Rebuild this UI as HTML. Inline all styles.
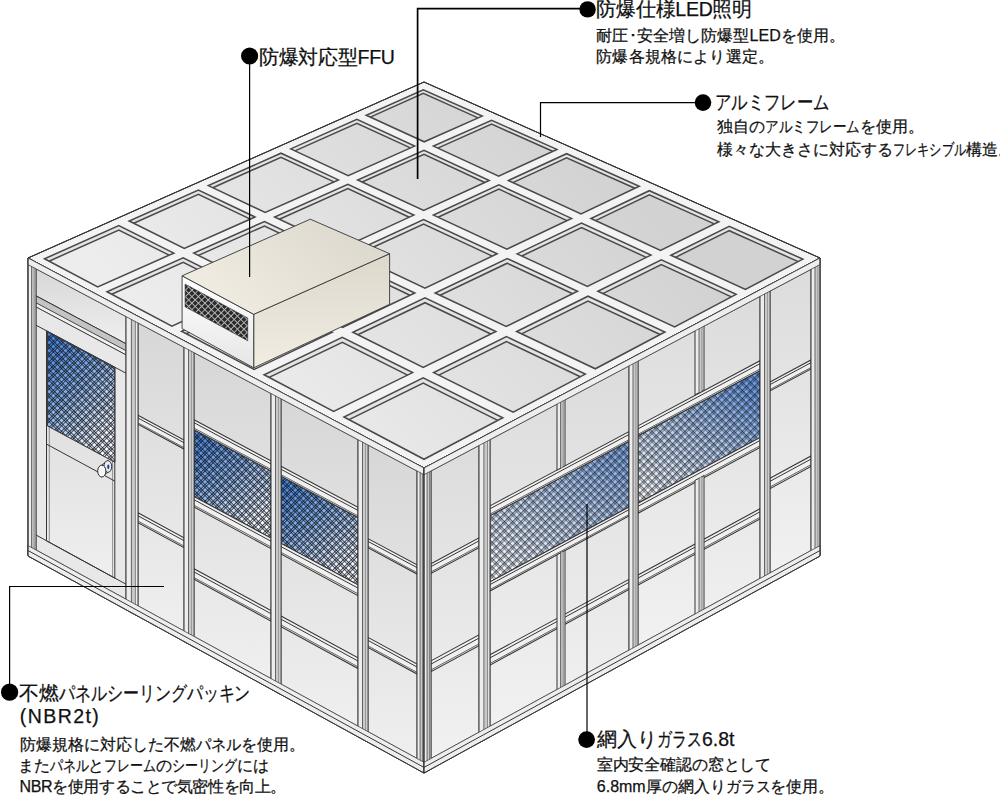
<!DOCTYPE html>
<html><head><meta charset="utf-8"><title>clean room</title>
<style>
html,body{margin:0;padding:0;background:#fff;}
body{width:1000px;height:796px;position:relative;overflow:hidden;font-family:"Liberation Sans",sans-serif;color:#111;}
svg{position:absolute;left:0;top:0;}
.t{position:absolute;white-space:nowrap;-webkit-text-stroke:0.25px #111;}
.k{display:inline-block;transform-origin:0 0;}
</style></head><body>
<svg width="1000" height="796" viewBox="0 0 1000 796">
<defs>
<linearGradient id="gTop" gradientUnits="userSpaceOnUse" x1="250" y1="420" x2="560" y2="120"><stop offset="0" stop-color="#ededed"/><stop offset="1" stop-color="#d2d2d2"/></linearGradient>
<linearGradient id="gWall" x1="0" y1="0" x2="0" y2="1"><stop offset="0" stop-color="#d7d7d7"/><stop offset="1" stop-color="#efefef"/></linearGradient>
<linearGradient id="gWallR" x1="0" y1="0" x2="0" y2="1"><stop offset="0" stop-color="#dcdcdc"/><stop offset="1" stop-color="#f1f1f1"/></linearGradient>
<linearGradient id="gBlue" x1="0" y1="0" x2="0.5" y2="1"><stop offset="0" stop-color="#3f7fdc"/><stop offset="0.5" stop-color="#8ab3ec"/><stop offset="1" stop-color="#f6f9ff"/></linearGradient>
<linearGradient id="gBlueR" x1="0.75" y1="0" x2="0.2" y2="1"><stop offset="0" stop-color="#6c9de6"/><stop offset="0.5" stop-color="#b9cff0"/><stop offset="1" stop-color="#f6f8fc"/></linearGradient>
<linearGradient id="gBlueR1" x1="0.75" y1="0" x2="0.2" y2="1"><stop offset="0" stop-color="#86ace6"/><stop offset="0.5" stop-color="#c4d6f2"/><stop offset="1" stop-color="#f6f8fc"/></linearGradient>
<linearGradient id="gFFUtop" x1="0" y1="0.7" x2="1" y2="0.2"><stop offset="0" stop-color="#f2ede3"/><stop offset="1" stop-color="#dcd7cc"/></linearGradient>
<linearGradient id="gFFUside" x1="0" y1="0" x2="0" y2="1"><stop offset="0" stop-color="#ddd8cc"/><stop offset="1" stop-color="#f2ede3"/></linearGradient>
<linearGradient id="gFFUfront" x1="0" y1="0" x2="0" y2="1"><stop offset="0" stop-color="#ffffff"/><stop offset="1" stop-color="#e6e6e6"/></linearGradient>
<pattern id="mesh" width="5.8" height="5.8" patternUnits="userSpaceOnUse" patternTransform="rotate(45)"><rect x="0" y="0" width="0.9" height="5.8" fill="#0c1016" fill-opacity="0.8"/><rect x="1.9" y="0" width="0.9" height="5.8" fill="#0c1016" fill-opacity="0.8"/><rect x="0" y="0" width="5.8" height="0.9" fill="#0c1016" fill-opacity="0.8"/><rect x="0" y="1.9" width="5.8" height="0.9" fill="#0c1016" fill-opacity="0.8"/></pattern>
<pattern id="meshR" width="5.8" height="5.8" patternUnits="userSpaceOnUse" patternTransform="rotate(45)"><rect x="0" y="0" width="0.7" height="5.8" fill="#0c1016" fill-opacity="0.8"/><rect x="1.75" y="0" width="0.7" height="5.8" fill="#0c1016" fill-opacity="0.75"/><rect x="0" y="0" width="5.8" height="0.7" fill="#0c1016" fill-opacity="0.8"/><rect x="0" y="1.75" width="5.8" height="0.7" fill="#0c1016" fill-opacity="0.75"/></pattern>
<pattern id="grille" width="4.6" height="4.6" patternUnits="userSpaceOnUse" patternTransform="rotate(45)"><rect width="4.6" height="4.6" fill="#2a2a2a"/><rect x="0" y="0" width="0.9" height="4.6" fill="#bdbdbd"/><rect x="0" y="0" width="4.6" height="0.9" fill="#bdbdbd"/></pattern>
</defs>
<polygon points="28,258 424,468 820,258 424,82" fill="#f3f3f3" stroke="#353535" stroke-width="0.9"/>
<polygon points="44.5,258.8 97.7,286.9 173.8,253.1 118.8,225.6" fill="#e4e4e4" stroke="none" stroke-width="0.8"/>
<polygon points="49,261.2 97.7,286.9 169.1,255.2 118.8,230" fill="url(#gTop)" stroke="none" stroke-width="0.8"/>
<polygon points="44.5,258.8 97.7,286.9 173.8,253.1 118.8,225.6" fill="none" stroke="#4a4a4a" stroke-width="1.55"/>
<polyline points="49,261.2 118.8,230 169.1,255.2" fill="none" stroke="#4a4a4a" stroke-width="1.5"/>
<polygon points="129.2,221 184.3,248.4 255,217 198.4,190.1" fill="#e4e4e4" stroke="none" stroke-width="0.8"/>
<polygon points="133.7,223.2 184.3,248.4 250.3,219.1 198.4,194.4" fill="url(#gTop)" stroke="none" stroke-width="0.8"/>
<polygon points="129.2,221 184.3,248.4 255,217 198.4,190.1" fill="none" stroke="#4a4a4a" stroke-width="1.55"/>
<polyline points="133.7,223.2 198.4,194.4 250.3,219.1" fill="none" stroke="#4a4a4a" stroke-width="1.5"/>
<polygon points="208.4,185.6 265.2,212.5 338.4,179.9 281,153.2" fill="#e4e4e4" stroke="none" stroke-width="0.8"/>
<polygon points="212.8,187.7 265.2,212.5 334,181.9 281,157.3" fill="url(#gTop)" stroke="none" stroke-width="0.8"/>
<polygon points="208.4,185.6 265.2,212.5 338.4,179.9 281,153.2" fill="none" stroke="#4a4a4a" stroke-width="1.55"/>
<polyline points="212.8,187.7 281,157.3 334,181.9" fill="none" stroke="#4a4a4a" stroke-width="1.5"/>
<polygon points="290.7,148.9 348.2,175.6 414.6,146.1 356.9,119.4" fill="#e4e4e4" stroke="none" stroke-width="0.8"/>
<polygon points="295,150.9 348.2,175.6 410.4,147.9 356.9,123.2" fill="url(#gTop)" stroke="none" stroke-width="0.8"/>
<polygon points="290.7,148.9 348.2,175.6 414.6,146.1 356.9,119.4" fill="none" stroke="#4a4a4a" stroke-width="1.55"/>
<polyline points="295,150.9 356.9,123.2 410.4,147.9" fill="none" stroke="#4a4a4a" stroke-width="1.5"/>
<polygon points="366.3,115.2 424.2,141.8 482.2,116.1 423.3,89.8" fill="#e4e4e4" stroke="none" stroke-width="0.8"/>
<polygon points="370.3,117.1 424.2,141.8 478.1,117.9 423.3,93.4" fill="url(#gTop)" stroke="none" stroke-width="0.8"/>
<polygon points="366.3,115.2 424.2,141.8 482.2,116.1 423.3,89.8" fill="none" stroke="#4a4a4a" stroke-width="1.55"/>
<polyline points="370.3,117.1 423.3,93.4 478.1,117.9" fill="none" stroke="#4a4a4a" stroke-width="1.5"/>
<polygon points="107,291.8 171.9,326.1 249,290.7 183.2,257.8" fill="#e4e4e4" stroke="none" stroke-width="0.8"/>
<polygon points="111.7,294.3 171.9,326.1 244.2,292.9 183.2,262.4" fill="url(#gTop)" stroke="none" stroke-width="0.8"/>
<polygon points="107,291.8 171.9,326.1 249,290.7 183.2,257.8" fill="none" stroke="#4a4a4a" stroke-width="1.55"/>
<polyline points="111.7,294.3 183.2,262.4 244.2,292.9" fill="none" stroke="#4a4a4a" stroke-width="1.5"/>
<polygon points="193.8,253.1 259.6,285.9 330.9,253.1 264.5,221.5" fill="#e4e4e4" stroke="none" stroke-width="0.8"/>
<polygon points="198.4,255.4 259.6,285.9 326.2,255.3 264.5,226" fill="url(#gTop)" stroke="none" stroke-width="0.8"/>
<polygon points="193.8,253.1 259.6,285.9 330.9,253.1 264.5,221.5" fill="none" stroke="#4a4a4a" stroke-width="1.55"/>
<polyline points="198.4,255.4 264.5,226 326.2,255.3" fill="none" stroke="#4a4a4a" stroke-width="1.5"/>
<polygon points="274.7,217 341.1,248.4 413.8,215.1 347.9,184.4" fill="#e4e4e4" stroke="none" stroke-width="0.8"/>
<polygon points="279.3,219.2 341.1,248.4 409.3,217.2 347.9,188.6" fill="url(#gTop)" stroke="none" stroke-width="0.8"/>
<polygon points="274.7,217 341.1,248.4 413.8,215.1 347.9,184.4" fill="none" stroke="#4a4a4a" stroke-width="1.55"/>
<polyline points="279.3,219.2 347.9,188.6 409.3,217.2" fill="none" stroke="#4a4a4a" stroke-width="1.5"/>
<polygon points="357.7,180 423.7,210.5 489.2,180.5 424,150.4" fill="#e4e4e4" stroke="none" stroke-width="0.8"/>
<polygon points="362.1,182 423.7,210.5 484.8,182.5 424,154.4" fill="url(#gTop)" stroke="none" stroke-width="0.8"/>
<polygon points="357.7,180 423.7,210.5 489.2,180.5 424,150.4" fill="none" stroke="#4a4a4a" stroke-width="1.55"/>
<polyline points="362.1,182 424,154.4 484.8,182.5" fill="none" stroke="#4a4a4a" stroke-width="1.5"/>
<polygon points="433.5,146.1 498.7,176.1 556.9,149.4 491.6,120.3" fill="#e4e4e4" stroke="none" stroke-width="0.8"/>
<polygon points="437.8,148.1 498.7,176.1 552.6,151.3 491.6,124.1" fill="url(#gTop)" stroke="none" stroke-width="0.8"/>
<polygon points="433.5,146.1 498.7,176.1 556.9,149.4 491.6,120.3" fill="none" stroke="#4a4a4a" stroke-width="1.55"/>
<polyline points="437.8,148.1 491.6,124.1 552.6,151.3" fill="none" stroke="#4a4a4a" stroke-width="1.5"/>
<polygon points="181.6,331.2 254.1,369.5 332.2,332.3 258.8,295.6" fill="#e4e4e4" stroke="none" stroke-width="0.8"/>
<polygon points="186.4,333.8 254.1,369.5 327.3,334.7 258.8,300.4" fill="url(#gTop)" stroke="none" stroke-width="0.8"/>
<polygon points="181.6,331.2 254.1,369.5 332.2,332.3 258.8,295.6" fill="none" stroke="#4a4a4a" stroke-width="1.55"/>
<polyline points="186.4,333.8 258.8,300.4 327.3,334.7" fill="none" stroke="#4a4a4a" stroke-width="1.5"/>
<polygon points="269.4,290.7 342.7,327.3 414.8,293 340.8,257.8" fill="#e4e4e4" stroke="none" stroke-width="0.8"/>
<polygon points="274.1,293.1 342.7,327.3 410,295.3 340.8,262.4" fill="url(#gTop)" stroke="none" stroke-width="0.8"/>
<polygon points="269.4,290.7 342.7,327.3 414.8,293 340.8,257.8" fill="none" stroke="#4a4a4a" stroke-width="1.55"/>
<polyline points="274.1,293.1 340.8,262.4 410,295.3" fill="none" stroke="#4a4a4a" stroke-width="1.5"/>
<polygon points="351,253.1 425,288.1 497.1,253.8 423.6,219.6" fill="#e4e4e4" stroke="none" stroke-width="0.8"/>
<polygon points="355.7,255.3 425,288.1 492.4,256.1 423.6,224" fill="url(#gTop)" stroke="none" stroke-width="0.8"/>
<polygon points="351,253.1 425,288.1 497.1,253.8 423.6,219.6" fill="none" stroke="#4a4a4a" stroke-width="1.55"/>
<polyline points="355.7,255.3 423.6,224 492.4,256.1" fill="none" stroke="#4a4a4a" stroke-width="1.5"/>
<polygon points="433.5,215.1 506.9,249.2 571.5,218.4 498.9,184.9" fill="#e4e4e4" stroke="none" stroke-width="0.8"/>
<polygon points="438,217.2 506.9,249.2 567,220.6 498.9,189.1" fill="url(#gTop)" stroke="none" stroke-width="0.8"/>
<polygon points="433.5,215.1 506.9,249.2 571.5,218.4 498.9,184.9" fill="none" stroke="#4a4a4a" stroke-width="1.55"/>
<polyline points="438,217.2 498.9,189.1 567,220.6" fill="none" stroke="#4a4a4a" stroke-width="1.5"/>
<polygon points="508.4,180.5 581,213.9 639.2,186.2 566.6,153.7" fill="#e4e4e4" stroke="none" stroke-width="0.8"/>
<polygon points="512.8,182.6 581,213.9 634.9,188.3 566.6,157.8" fill="url(#gTop)" stroke="none" stroke-width="0.8"/>
<polygon points="508.4,180.5 581,213.9 639.2,186.2 566.6,153.7" fill="none" stroke="#4a4a4a" stroke-width="1.55"/>
<polyline points="512.8,182.6 566.6,157.8 634.9,188.3" fill="none" stroke="#4a4a4a" stroke-width="1.5"/>
<polygon points="264.1,374.8 333.6,411.5 412.6,372.6 342.3,337.4" fill="#e4e4e4" stroke="none" stroke-width="0.8"/>
<polygon points="269.1,377.4 333.6,411.5 407.6,375.1 342.3,342.4" fill="url(#gTop)" stroke="none" stroke-width="0.8"/>
<polygon points="264.1,374.8 333.6,411.5 412.6,372.6 342.3,337.4" fill="none" stroke="#4a4a4a" stroke-width="1.55"/>
<polyline points="269.1,377.4 342.3,342.4 407.6,375.1" fill="none" stroke="#4a4a4a" stroke-width="1.5"/>
<polygon points="352.9,332.3 423.2,367.4 495.9,331.5 425,297.9" fill="#e4e4e4" stroke="none" stroke-width="0.8"/>
<polygon points="357.8,334.8 423.2,367.4 490.9,334 425,302.7" fill="url(#gTop)" stroke="none" stroke-width="0.8"/>
<polygon points="352.9,332.3 423.2,367.4 495.9,331.5 425,297.9" fill="none" stroke="#4a4a4a" stroke-width="1.55"/>
<polyline points="357.8,334.8 425,302.7 490.9,334" fill="none" stroke="#4a4a4a" stroke-width="1.5"/>
<polygon points="435.2,293 506.1,326.5 577.5,291.3 507.2,258.6" fill="#e4e4e4" stroke="none" stroke-width="0.8"/>
<polygon points="440.1,295.3 506.1,326.5 572.7,293.7 507.2,263.2" fill="url(#gTop)" stroke="none" stroke-width="0.8"/>
<polygon points="435.2,293 506.1,326.5 577.5,291.3 507.2,258.6" fill="none" stroke="#4a4a4a" stroke-width="1.55"/>
<polyline points="440.1,295.3 507.2,263.2 572.7,293.7" fill="none" stroke="#4a4a4a" stroke-width="1.5"/>
<polygon points="517.1,253.9 587.4,286.5 650.9,255.1 581.5,223.1" fill="#e4e4e4" stroke="none" stroke-width="0.8"/>
<polygon points="521.8,256 587.4,286.5 646.3,257.4 581.5,227.5" fill="url(#gTop)" stroke="none" stroke-width="0.8"/>
<polygon points="517.1,253.9 587.4,286.5 650.9,255.1 581.5,223.1" fill="none" stroke="#4a4a4a" stroke-width="1.55"/>
<polyline points="521.8,256 581.5,227.5 646.3,257.4" fill="none" stroke="#4a4a4a" stroke-width="1.5"/>
<polygon points="591,218.5 660.5,250.4 718.8,221.7 649.3,190.7" fill="#e4e4e4" stroke="none" stroke-width="0.8"/>
<polygon points="595.5,220.6 660.5,250.4 714.3,223.9 649.3,194.9" fill="url(#gTop)" stroke="none" stroke-width="0.8"/>
<polygon points="591,218.5 660.5,250.4 718.8,221.7 649.3,190.7" fill="none" stroke="#4a4a4a" stroke-width="1.55"/>
<polyline points="595.5,220.6 649.3,194.9 714.3,223.9" fill="none" stroke="#4a4a4a" stroke-width="1.5"/>
<polygon points="344,417 424,459.3 502.8,417.7 423.2,377.8" fill="#e4e4e4" stroke="none" stroke-width="0.8"/>
<polygon points="349.1,419.7 424,459.3 497.7,420.3 423.2,383" fill="url(#gTop)" stroke="none" stroke-width="0.8"/>
<polygon points="344,417 424,459.3 502.8,417.7 423.2,377.8" fill="none" stroke="#4a4a4a" stroke-width="1.55"/>
<polyline points="349.1,419.7 423.2,383 497.7,420.3" fill="none" stroke="#4a4a4a" stroke-width="1.5"/>
<polygon points="433.7,372.6 513.2,412.2 585.3,374.1 506.5,336.6" fill="#e4e4e4" stroke="none" stroke-width="0.8"/>
<polygon points="438.8,375.1 513.2,412.2 580.3,376.7 506.5,341.6" fill="url(#gTop)" stroke="none" stroke-width="0.8"/>
<polygon points="433.7,372.6 513.2,412.2 585.3,374.1 506.5,336.6" fill="none" stroke="#4a4a4a" stroke-width="1.55"/>
<polyline points="438.8,375.1 506.5,341.6 580.3,376.7" fill="none" stroke="#4a4a4a" stroke-width="1.5"/>
<polygon points="516.7,331.5 595.3,368.8 664.9,332 588,296.2" fill="#e4e4e4" stroke="none" stroke-width="0.8"/>
<polygon points="521.6,333.9 595.3,368.8 660.1,334.5 588,301" fill="url(#gTop)" stroke="none" stroke-width="0.8"/>
<polygon points="516.7,331.5 595.3,368.8 664.9,332 588,296.2" fill="none" stroke="#4a4a4a" stroke-width="1.55"/>
<polyline points="521.6,333.9 588,301 660.1,334.5" fill="none" stroke="#4a4a4a" stroke-width="1.5"/>
<polygon points="597.9,291.3 674.6,326.9 736.1,294.4 661.3,259.9" fill="#e4e4e4" stroke="none" stroke-width="0.8"/>
<polygon points="602.7,293.6 674.6,326.9 731.4,296.9 661.3,264.5" fill="url(#gTop)" stroke="none" stroke-width="0.8"/>
<polygon points="597.9,291.3 674.6,326.9 736.1,294.4 661.3,259.9" fill="none" stroke="#4a4a4a" stroke-width="1.55"/>
<polyline points="602.7,293.6 661.3,264.5 731.4,296.9" fill="none" stroke="#4a4a4a" stroke-width="1.5"/>
<polygon points="670.9,255.2 745.4,289.5 802.8,259.1 729.2,226.3" fill="#e4e4e4" stroke="none" stroke-width="0.8"/>
<polygon points="675.5,257.3 745.4,289.5 798.2,261.6 729.2,230.7" fill="url(#gTop)" stroke="none" stroke-width="0.8"/>
<polygon points="670.9,255.2 745.4,289.5 802.8,259.1 729.2,226.3" fill="none" stroke="#4a4a4a" stroke-width="1.55"/>
<polyline points="675.5,257.3 729.2,230.7 798.2,261.6" fill="none" stroke="#4a4a4a" stroke-width="1.5"/>
<polygon points="28,258 424,468 820,258 424,82" fill="none" stroke="#353535" stroke-width="0.9"/>
<polygon points="28,258 424,468 424,773 28,556" fill="#e2e2e2" stroke="#353535" stroke-width="0.8"/>
<polygon points="36,268.8 126,316.6 126,343.8 36,295.9" fill="url(#gWall)" stroke="#353535" stroke-width="0.7"/>
<polygon points="36,295.9 126,343.8 126,354.9 36,307" fill="#f0f0f0" stroke="#353535" stroke-width="1.0"/>
<polygon points="36,295.9 126,343.8 126,350.7 36,302.8" fill="#c4c4c4" stroke="#353535" stroke-width="0.9"/>
<polygon points="36,307 126,354.9 126,599.2 36,549.9" fill="#e8e8e8" stroke="#353535" stroke-width="0.8"/>
<line x1="36" y1="325.2" x2="126" y2="373.2" stroke="#353535" stroke-width="1.0"/>
<polygon points="46.5,330.8 114.8,367.2 114.8,578.1 46.5,540.8" fill="url(#gWall)" stroke="#353535" stroke-width="1.0"/>
<line x1="49.3" y1="426.8" x2="49.3" y2="542.3" stroke="#777" stroke-width="0.8"/>
<line x1="112.6" y1="461" x2="112.6" y2="576.9" stroke="#777" stroke-width="0.8"/>
<polygon points="47.5,331.9 114.8,367.8 114.8,462.2 47.5,425.9" fill="url(#gBlue)" stroke="#353535" stroke-width="0.7"/>
<polygon points="47.5,331.9 114.8,367.8 114.8,462.2 47.5,425.9" fill="url(#mesh)" stroke="#353535" stroke-width="0.7"/>
<line x1="46.5" y1="444.1" x2="114.8" y2="481.1" stroke="#353535" stroke-width="1.0"/>
<line x1="36" y1="535" x2="126" y2="584.2" stroke="#353535" stroke-width="1.0"/>
<path d="M101.5,465.2 L107.8,460.6 M101.5,477 L107.8,472.4" stroke="#333" stroke-width="0.9" fill="none"/>
<ellipse cx="107.8" cy="466.5" rx="3.9" ry="5.9" fill="#e9ecf2" stroke="#2a2a2a" stroke-width="1.0"/>
<ellipse cx="108.3" cy="466.8" rx="1.1" ry="2.4" fill="#23379a"/>
<ellipse cx="101.8" cy="471.1" rx="4.1" ry="5.9" fill="#f7f7f7" stroke="#2a2a2a" stroke-width="1.0"/>
<polygon points="138,322.9 184,347.3 184,631 138,605.8" fill="url(#gWall)" stroke="#353535" stroke-width="0.7"/>
<polygon points="138,415.3 184,440 184,449 138,424.3" fill="#f0f0f0" stroke="#353535" stroke-width="1.05"/>
<line x1="138" y1="418" x2="184" y2="442.7" stroke="#353535" stroke-width="1.0"/>
<line x1="138" y1="422.9" x2="184" y2="447.6" stroke="#555" stroke-width="0.9"/>
<polygon points="138,512.8 184,537.7 184,547.6 138,522.7" fill="#f0f0f0" stroke="#353535" stroke-width="1.05"/>
<line x1="138" y1="515.8" x2="184" y2="540.7" stroke="#353535" stroke-width="1.0"/>
<line x1="138" y1="521.1" x2="184" y2="546.1" stroke="#555" stroke-width="0.9"/>
<polygon points="194,352.7 271,393.5 271,678.6 194,636.4" fill="url(#gWall)" stroke="#353535" stroke-width="0.7"/>
<polygon points="194,429.7 271,470.9 271,538 194,496.5" fill="url(#gBlue)" stroke="#353535" stroke-width="0.7"/>
<polygon points="194,429.7 271,470.9 271,538 194,496.5" fill="url(#mesh)" stroke="#353535" stroke-width="0.7"/>
<polygon points="194,419.8 271,460.9 271,470.9 194,429.7" fill="#f0f0f0" stroke="#353535" stroke-width="1.05"/>
<line x1="194" y1="422.7" x2="271" y2="463.9" stroke="#353535" stroke-width="1.0"/>
<line x1="194" y1="428.1" x2="271" y2="469.3" stroke="#555" stroke-width="0.9"/>
<polygon points="194,496.5 271,538 271,548.6 194,507" fill="#f0f0f0" stroke="#353535" stroke-width="1.05"/>
<line x1="194" y1="499.7" x2="271" y2="541.2" stroke="#353535" stroke-width="1.0"/>
<line x1="194" y1="505.3" x2="271" y2="546.9" stroke="#555" stroke-width="0.9"/>
<polygon points="194,568.7 271,610.6 271,621.1 194,579.3" fill="#f0f0f0" stroke="#353535" stroke-width="1.05"/>
<line x1="194" y1="571.9" x2="271" y2="613.7" stroke="#353535" stroke-width="1.0"/>
<line x1="194" y1="577.6" x2="271" y2="619.4" stroke="#555" stroke-width="0.9"/>
<polygon points="281,398.8 358,439.7 358,726.2 281,684.1" fill="url(#gWall)" stroke="#353535" stroke-width="0.7"/>
<polygon points="281,476.3 358,517.5 358,584.9 281,543.4" fill="url(#gBlue)" stroke="#353535" stroke-width="0.7"/>
<polygon points="281,476.3 358,517.5 358,584.9 281,543.4" fill="url(#mesh)" stroke="#353535" stroke-width="0.7"/>
<polygon points="281,466.3 358,507.4 358,517.5 281,476.3" fill="#f0f0f0" stroke="#353535" stroke-width="1.05"/>
<line x1="281" y1="469.3" x2="358" y2="510.4" stroke="#353535" stroke-width="1.0"/>
<line x1="281" y1="474.7" x2="358" y2="515.9" stroke="#555" stroke-width="0.9"/>
<polygon points="281,543.4 358,584.9 358,595.6 281,554" fill="#f0f0f0" stroke="#353535" stroke-width="1.05"/>
<line x1="281" y1="546.6" x2="358" y2="588.1" stroke="#353535" stroke-width="1.0"/>
<line x1="281" y1="552.3" x2="358" y2="593.8" stroke="#555" stroke-width="0.9"/>
<polygon points="281,616 358,657.8 358,668.5 281,626.6" fill="#f0f0f0" stroke="#353535" stroke-width="1.05"/>
<line x1="281" y1="619.2" x2="358" y2="661" stroke="#353535" stroke-width="1.0"/>
<line x1="281" y1="624.9" x2="358" y2="666.8" stroke="#555" stroke-width="0.9"/>
<polygon points="368,445 417,471 417,758.5 368,731.7" fill="url(#gWall)" stroke="#353535" stroke-width="0.7"/>
<polygon points="368,538.6 417,564.9 417,574 368,547.7" fill="#f0f0f0" stroke="#353535" stroke-width="1.05"/>
<line x1="368" y1="541.4" x2="417" y2="567.6" stroke="#353535" stroke-width="1.0"/>
<line x1="368" y1="546.3" x2="417" y2="572.6" stroke="#555" stroke-width="0.9"/>
<polygon points="368,637.4 417,664 417,674 368,647.5" fill="#f0f0f0" stroke="#353535" stroke-width="1.05"/>
<line x1="368" y1="640.4" x2="417" y2="667" stroke="#353535" stroke-width="1.0"/>
<line x1="368" y1="645.9" x2="417" y2="672.4" stroke="#555" stroke-width="0.9"/>
<polygon points="28,258 36,262.2 36,560.4 28,556" fill="#ededed" stroke="#353535" stroke-width="1.0"/>
<polygon points="31.8,260 33.9,261.1 33.9,559.2 31.8,558.1" fill="#c9c9c9" stroke="none" stroke-width="0.8"/>
<line x1="31.6" y1="259.9" x2="31.6" y2="558" stroke="#555" stroke-width="0.9"/>
<line x1="34.2" y1="261.3" x2="34.2" y2="559.4" stroke="#666" stroke-width="0.8"/>
<polygon points="126,310 138,316.3 138,616.3 126,609.7" fill="#ededed" stroke="#353535" stroke-width="1.0"/>
<polygon points="131.6,313 134.9,314.7 134.9,614.6 131.6,612.8" fill="#c9c9c9" stroke="none" stroke-width="0.8"/>
<line x1="131.4" y1="312.8" x2="131.4" y2="612.7" stroke="#555" stroke-width="0.9"/>
<line x1="135.4" y1="314.9" x2="135.4" y2="614.8" stroke="#666" stroke-width="0.8"/>
<polygon points="184,340.7 194,346 194,647 184,641.5" fill="#ededed" stroke="#353535" stroke-width="1.0"/>
<polygon points="188.7,343.2 191.4,344.7 191.4,645.5 188.7,644.1" fill="#c9c9c9" stroke="none" stroke-width="0.8"/>
<line x1="188.5" y1="343.1" x2="188.5" y2="644" stroke="#555" stroke-width="0.9"/>
<line x1="191.8" y1="344.9" x2="191.8" y2="645.8" stroke="#666" stroke-width="0.8"/>
<polygon points="271,386.9 281,392.2 281,694.6 271,689.2" fill="#ededed" stroke="#353535" stroke-width="1.0"/>
<polygon points="275.7,389.4 278.4,390.8 278.4,693.2 275.7,691.7" fill="#c9c9c9" stroke="none" stroke-width="0.8"/>
<line x1="275.5" y1="389.2" x2="275.5" y2="691.6" stroke="#555" stroke-width="0.9"/>
<line x1="278.8" y1="391" x2="278.8" y2="693.4" stroke="#666" stroke-width="0.8"/>
<polygon points="358,433 368,438.3 368,742.3 358,736.8" fill="#ededed" stroke="#353535" stroke-width="1.0"/>
<polygon points="362.7,435.5 365.4,436.9 365.4,740.9 362.7,739.4" fill="#c9c9c9" stroke="none" stroke-width="0.8"/>
<line x1="362.5" y1="435.4" x2="362.5" y2="739.3" stroke="#555" stroke-width="0.9"/>
<line x1="365.8" y1="437.1" x2="365.8" y2="741.1" stroke="#666" stroke-width="0.8"/>
<polygon points="417,464.3 424,468 424,773 417,769.2" fill="#ededed" stroke="#353535" stroke-width="1.0"/>
<polygon points="420.3,466 422.2,467 422.2,772 420.3,771" fill="#c9c9c9" stroke="none" stroke-width="0.8"/>
<line x1="420.1" y1="466" x2="420.1" y2="770.9" stroke="#555" stroke-width="0.9"/>
<line x1="422.5" y1="467.2" x2="422.5" y2="772.2" stroke="#666" stroke-width="0.8"/>
<polygon points="28,258 424,468 424,474.7 28,264.6" fill="#eeeeee" stroke="#353535" stroke-width="0.75"/>
<polygon points="28,545.6 424,762.3 424,773 28,556" fill="#eeeeee" stroke="#353535" stroke-width="0.75"/>
<line x1="28" y1="550.5" x2="424" y2="767.4" stroke="#353535" stroke-width="1.0"/>
<polygon points="424,468 820,258 820,556 424,773" fill="#e2e2e2" stroke="#353535" stroke-width="0.8"/>
<polygon points="431,471 479,445.5 479,732.2 431,758.5" fill="url(#gWallR)" stroke="#353535" stroke-width="0.7"/>
<polygon points="431,563.7 479,537.9 479,547.7 431,573.4" fill="#f0f0f0" stroke="#353535" stroke-width="1.05"/>
<line x1="431" y1="566.6" x2="479" y2="540.9" stroke="#353535" stroke-width="1.0"/>
<line x1="431" y1="571.9" x2="479" y2="546.1" stroke="#555" stroke-width="0.9"/>
<polygon points="431,660.9 479,634.9 479,645.6 431,671.6" fill="#f0f0f0" stroke="#353535" stroke-width="1.05"/>
<line x1="431" y1="664.1" x2="479" y2="638.1" stroke="#353535" stroke-width="1.0"/>
<line x1="431" y1="669.9" x2="479" y2="643.9" stroke="#555" stroke-width="0.9"/>
<polygon points="490,439.7 629,365.9 629,650.1 490,726.2" fill="url(#gWallR)" stroke="#353535" stroke-width="0.7"/>
<polygon points="490,515.6 629,441.3 629,507 490,581.9" fill="url(#gBlueR1)" stroke="#353535" stroke-width="0.7"/>
<polygon points="490,515.6 629,441.3 629,507 490,581.9" fill="url(#meshR)" stroke="#353535" stroke-width="0.7"/>
<polygon points="490,505.9 629,431.6 629,441.3 490,515.6" fill="#f0f0f0" stroke="#353535" stroke-width="1.05"/>
<line x1="490" y1="508.8" x2="629" y2="434.5" stroke="#353535" stroke-width="1.0"/>
<line x1="490" y1="514.1" x2="629" y2="439.7" stroke="#555" stroke-width="0.9"/>
<polygon points="490,581.9 629,507 629,516 490,591" fill="#f0f0f0" stroke="#353535" stroke-width="1.05"/>
<line x1="490" y1="584.6" x2="629" y2="509.7" stroke="#353535" stroke-width="1.0"/>
<line x1="490" y1="589.5" x2="629" y2="514.6" stroke="#555" stroke-width="0.9"/>
<polygon points="490,654.8 629,579.3 629,589.5 490,665.1" fill="#f0f0f0" stroke="#353535" stroke-width="1.05"/>
<line x1="490" y1="657.9" x2="629" y2="582.4" stroke="#353535" stroke-width="1.0"/>
<line x1="490" y1="663.5" x2="629" y2="587.9" stroke="#555" stroke-width="0.9"/>
<polygon points="638,361.1 760,296.4 760,578.4 638,645.2" fill="url(#gWallR)" stroke="#353535" stroke-width="0.7"/>
<polygon points="638,435.8 760,370.6 760,437.6 638,503.3" fill="url(#gBlueR)" stroke="#353535" stroke-width="0.7"/>
<polygon points="638,435.8 760,370.6 760,437.6 638,503.3" fill="url(#meshR)" stroke="#353535" stroke-width="0.7"/>
<polygon points="638,425.9 760,360.7 760,370.6 638,435.8" fill="#f0f0f0" stroke="#353535" stroke-width="1.05"/>
<line x1="638" y1="428.9" x2="760" y2="363.7" stroke="#353535" stroke-width="1.0"/>
<line x1="638" y1="434.3" x2="760" y2="369" stroke="#555" stroke-width="0.9"/>
<polygon points="638,503.3 760,437.6 760,447.4 638,513.3" fill="#f0f0f0" stroke="#353535" stroke-width="1.05"/>
<line x1="638" y1="506.3" x2="760" y2="440.5" stroke="#353535" stroke-width="1.0"/>
<line x1="638" y1="511.7" x2="760" y2="445.8" stroke="#555" stroke-width="0.9"/>
<polygon points="638,575 760,508.7 760,518.9 638,585.2" fill="#f0f0f0" stroke="#353535" stroke-width="1.05"/>
<line x1="638" y1="578.1" x2="760" y2="511.8" stroke="#353535" stroke-width="1.0"/>
<line x1="638" y1="583.6" x2="760" y2="517.3" stroke="#555" stroke-width="0.9"/>
<polygon points="770,291.1 811,269.3 811,550.5 770,572.9" fill="url(#gWallR)" stroke="#353535" stroke-width="0.7"/>
<polygon points="770,382 811,360 811,368.9 770,390.9" fill="#f0f0f0" stroke="#353535" stroke-width="1.05"/>
<line x1="770" y1="384.6" x2="811" y2="362.7" stroke="#353535" stroke-width="1.0"/>
<line x1="770" y1="389.5" x2="811" y2="367.5" stroke="#555" stroke-width="0.9"/>
<polygon points="770,478.2 811,456 811,466.4 770,488.7" fill="#f0f0f0" stroke="#353535" stroke-width="1.05"/>
<line x1="770" y1="481.3" x2="811" y2="459.1" stroke="#353535" stroke-width="1.0"/>
<line x1="770" y1="487" x2="811" y2="464.7" stroke="#555" stroke-width="0.9"/>
<polygon points="557,397.5 565,393.2 565,465.8 557,470.1" fill="#ededed" stroke="#353535" stroke-width="1.0"/>
<polygon points="560.8,395.5 562.9,394.3 562.9,466.9 560.8,468.1" fill="#c9c9c9" stroke="none" stroke-width="0.8"/>
<line x1="560.6" y1="395.6" x2="560.6" y2="468.2" stroke="#555" stroke-width="0.9"/>
<line x1="563.2" y1="394.2" x2="563.2" y2="466.8" stroke="#666" stroke-width="0.8"/>
<polygon points="557,554.8 565,550.5 565,695.7 557,700.1" fill="#ededed" stroke="#353535" stroke-width="1.0"/>
<polygon points="560.8,552.8 562.9,551.7 562.9,696.9 560.8,698.1" fill="#c9c9c9" stroke="none" stroke-width="0.8"/>
<line x1="560.6" y1="552.9" x2="560.6" y2="698.1" stroke="#555" stroke-width="0.9"/>
<line x1="563.2" y1="551.5" x2="563.2" y2="696.7" stroke="#666" stroke-width="0.8"/>
<polygon points="695,324.3 704,319.5 704,390 695,394.8" fill="#ededed" stroke="#353535" stroke-width="1.0"/>
<polygon points="699.2,322 701.7,320.8 701.7,391.3 699.2,392.6" fill="#c9c9c9" stroke="none" stroke-width="0.8"/>
<line x1="699" y1="322.1" x2="699" y2="392.7" stroke="#555" stroke-width="0.9"/>
<line x1="702" y1="320.6" x2="702" y2="391.1" stroke="#666" stroke-width="0.8"/>
<polygon points="695,480.4 704,475.5 704,619.6 695,624.5" fill="#ededed" stroke="#353535" stroke-width="1.0"/>
<polygon points="699.2,478.1 701.7,476.8 701.7,620.8 699.2,622.2" fill="#c9c9c9" stroke="none" stroke-width="0.8"/>
<line x1="699" y1="478.2" x2="699" y2="622.3" stroke="#555" stroke-width="0.9"/>
<line x1="702" y1="476.6" x2="702" y2="620.7" stroke="#666" stroke-width="0.8"/>
<polygon points="424,468 431,464.3 431,769.2 424,773" fill="#ededed" stroke="#353535" stroke-width="1.0"/>
<polygon points="427.3,466.3 429.2,465.3 429.2,770.2 427.3,771.2" fill="#c9c9c9" stroke="none" stroke-width="0.8"/>
<line x1="427.1" y1="466.3" x2="427.1" y2="771.3" stroke="#555" stroke-width="0.9"/>
<line x1="429.5" y1="465.1" x2="429.5" y2="770" stroke="#666" stroke-width="0.8"/>
<polygon points="479,438.8 490,433 490,736.8 479,742.9" fill="#ededed" stroke="#353535" stroke-width="1.0"/>
<polygon points="484.2,436.1 487.1,434.5 487.1,738.4 484.2,740" fill="#c9c9c9" stroke="none" stroke-width="0.8"/>
<line x1="483.9" y1="436.2" x2="483.9" y2="740.1" stroke="#555" stroke-width="0.9"/>
<line x1="487.6" y1="434.3" x2="487.6" y2="738.2" stroke="#666" stroke-width="0.8"/>
<polygon points="629,359.3 638,354.5 638,655.7 629,660.7" fill="#ededed" stroke="#353535" stroke-width="1.0"/>
<polygon points="633.2,357 635.7,355.8 635.7,657 633.2,658.3" fill="#c9c9c9" stroke="none" stroke-width="0.8"/>
<line x1="633" y1="357.1" x2="633" y2="658.4" stroke="#555" stroke-width="0.9"/>
<line x1="636" y1="355.6" x2="636" y2="656.8" stroke="#666" stroke-width="0.8"/>
<polygon points="760,289.8 770,284.5 770,583.4 760,588.9" fill="#ededed" stroke="#353535" stroke-width="1.0"/>
<polygon points="764.7,287.3 767.4,285.9 767.4,584.8 764.7,586.3" fill="#c9c9c9" stroke="none" stroke-width="0.8"/>
<line x1="764.5" y1="287.4" x2="764.5" y2="586.4" stroke="#555" stroke-width="0.9"/>
<line x1="767.8" y1="285.7" x2="767.8" y2="584.6" stroke="#666" stroke-width="0.8"/>
<polygon points="811,262.8 820,258 820,556 811,560.9" fill="#ededed" stroke="#353535" stroke-width="1.0"/>
<polygon points="815.2,260.5 817.7,259.2 817.7,557.3 815.2,558.6" fill="#c9c9c9" stroke="none" stroke-width="0.8"/>
<line x1="815" y1="260.6" x2="815" y2="558.7" stroke="#555" stroke-width="0.9"/>
<line x1="818" y1="259.1" x2="818" y2="557.1" stroke="#666" stroke-width="0.8"/>
<polygon points="424,468 820,258 820,264.6 424,474.7" fill="#eeeeee" stroke="#353535" stroke-width="0.75"/>
<polygon points="424,762.3 820,545.6 820,556 424,773" fill="#eeeeee" stroke="#353535" stroke-width="0.75"/>
<line x1="424" y1="767.4" x2="820" y2="550.5" stroke="#353535" stroke-width="1.0"/>
<polygon points="28,258 424,82 820,258 820,556 424,773 28,556" fill="none" stroke="#353535" stroke-width="0.9"/>
<line x1="424" y1="468" x2="424" y2="773" stroke="#353535" stroke-width="0.9"/>
<polygon points="253.7,314.3 389.6,253.7 389.6,304.3 253.7,367.8" fill="url(#gFFUside)" stroke="#353535" stroke-width="0.9"/>
<polygon points="182.1,275.8 253.7,314.3 253.7,367.8 182.1,328.6" fill="url(#gFFUfront)" stroke="#353535" stroke-width="0.9"/>
<polygon points="182.1,275.8 310.3,219.2 389.6,253.7 253.7,314.3" fill="url(#gFFUtop)" stroke="#353535" stroke-width="0.9"/>
<polygon points="185.1,284.1 247.7,318 247.7,340.7 185.1,306.8" fill="url(#grille)" stroke="#222" stroke-width="0.6"/>
<polyline points="417.6,179 417.6,8.6 588,8.6" fill="none" stroke="#000" stroke-width="1.7"/>
<circle cx="587.6" cy="9.4" r="8.2" fill="#000"/>
<polyline points="540.5,137 540.5,102.6 703,102.6" fill="none" stroke="#000" stroke-width="1.2"/>
<circle cx="703" cy="102.6" r="8.3" fill="#000"/>
<line x1="249.6" y1="56" x2="249.6" y2="277" stroke="#000" stroke-width="1.2"/>
<circle cx="249.6" cy="56" r="8.6" fill="#000"/>
<polyline points="164,586.5 9.6,586.5 9.6,692" fill="none" stroke="#000" stroke-width="1.2"/>
<circle cx="9.6" cy="692.2" r="8.6" fill="#000"/>
<line x1="587" y1="504" x2="587" y2="739" stroke="#000" stroke-width="1.2"/>
<circle cx="586.6" cy="739.6" r="8.4" fill="#000"/>
</svg>
<div class="t" style="left:596.3px;top:-1.8px;font-size:19.5px;line-height:23.5px"><span style="letter-spacing:-0.25px">防爆仕様LED照明</span></div>
<div class="t" style="left:596.3px;top:26.1px;font-size:16px;line-height:20px"><span style="letter-spacing:0.12px">耐圧･安全増し防爆型LEDを使用。</span></div>
<div class="t" style="left:596.3px;top:46.9px;font-size:16px;line-height:20px"><span style="letter-spacing:0.16px">防爆各規格により選定。</span></div>
<div class="t" style="left:715.3px;top:90.9px;font-size:19.5px;line-height:23.5px"><span class="k" style="transform:scaleX(0.8186);margin-right:-25.40px">アルミフレーム</span></div>
<div class="t" style="left:717.3px;top:117.3px;font-size:16px;line-height:20px">独自の<span class="k" style="transform:scaleX(0.8464);margin-right:-17.20px">アルミフレーム</span>を使用。</div>
<div class="t" style="left:717.3px;top:140.1px;font-size:16px;line-height:20px">様々な大きさに対応する<span class="k" style="transform:scaleX(0.7604);margin-right:-23.00px">フレキシブル</span>構造。</div>
<div class="t" style="left:259px;top:46px;font-size:19.5px;line-height:23.5px"><span style="letter-spacing:-0.29px">防爆対応型FFU</span></div>
<div class="t" style="left:19.2px;top:681.6px;font-size:19.5px;line-height:23.5px">不燃<span class="k" style="transform:scaleX(0.7975);margin-right:-48.60px">パネルシーリングパッキン</span></div>
<div class="t" style="left:19.8px;top:704.6px;font-size:19.5px;line-height:23.5px"><span style="letter-spacing:1.43px">(NBR2t)</span></div>
<div class="t" style="left:19.6px;top:735.1px;font-size:16px;line-height:20px">防爆規格に対応した不燃<span class="k" style="transform:scaleX(0.9458);margin-right:-2.60px">パネル</span>を使用。</div>
<div class="t" style="left:17.6px;top:756.2px;font-size:16px;line-height:20px">また<span class="k" style="transform:scaleX(0.8094);margin-right:-9.15px">パネル</span>と<span class="k" style="transform:scaleX(0.8094);margin-right:-12.20px">フレーム</span>の<span class="k" style="transform:scaleX(0.8094);margin-right:-15.25px">シーリング</span>には</div>
<div class="t" style="left:19.6px;top:776.7px;font-size:16px;line-height:20px"><span style="letter-spacing:-0.41px">NBRを使用することで気密性を向上。</span></div>
<div class="t" style="left:597.4px;top:728.3px;font-size:19.5px;line-height:23.5px">網入り<span class="k" style="transform:scaleX(0.7433);margin-right:-15.40px">ガラス</span>6.8t</div>
<div class="t" style="left:596.8px;top:755.4px;font-size:16px;line-height:20px"><span style="letter-spacing:-0.16px">室内安全確認の窓として</span></div>
<div class="t" style="left:596.8px;top:776.5px;font-size:16px;line-height:20px">6.8mm厚の網入り<span class="k" style="transform:scaleX(0.9292);margin-right:-3.40px">ガラス</span>を使用。</div>
</body></html>
